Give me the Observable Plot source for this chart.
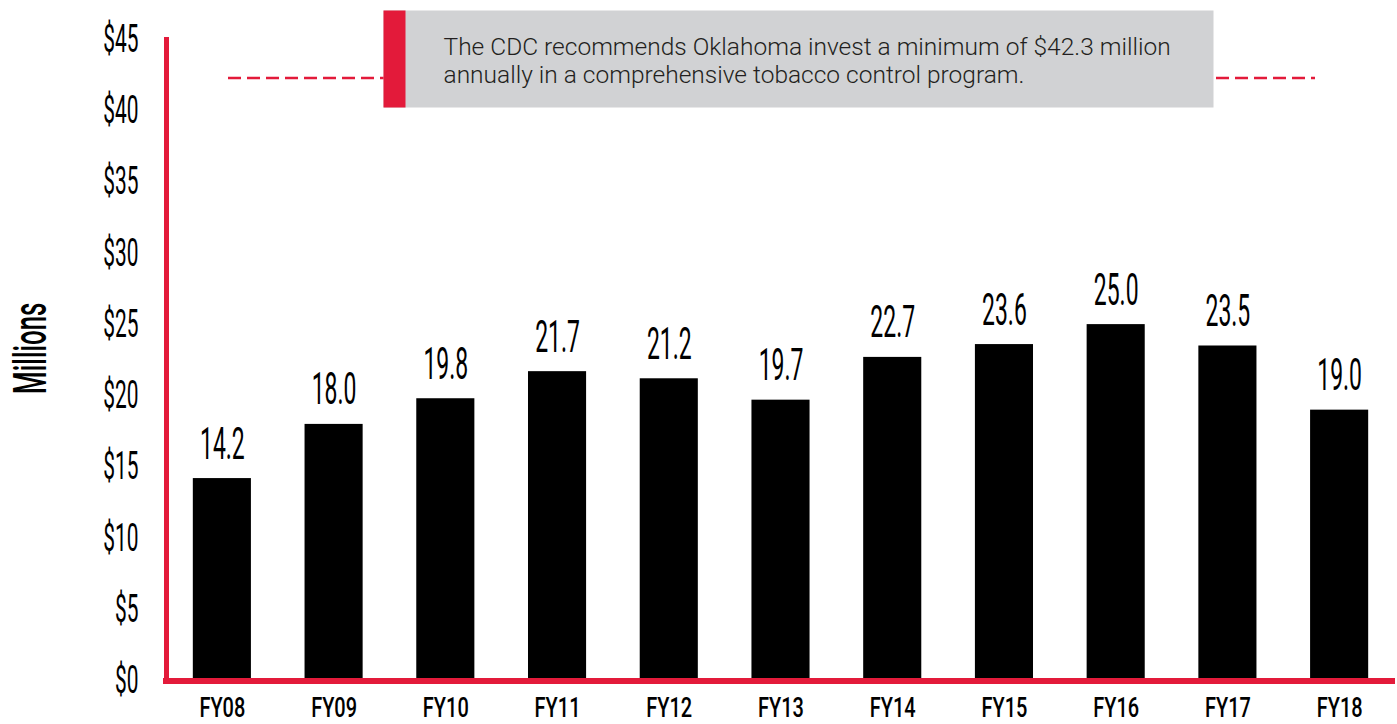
<!DOCTYPE html>
<html>
<head>
<meta charset="utf-8">
<script src="https://cdn.jsdelivr.net/npm/d3@7"></script>
<script src="https://cdn.jsdelivr.net/npm/@observablehq/plot@0.6"></script>
<style>
  html, body { margin: 0; padding: 0; background: #fff; }
  #chart svg { display: block; }
</style>
</head>
<body>
<div id="chart"></div>
<script>
// ---- data ----
const years = ["FY08","FY09","FY10","FY11","FY12","FY13","FY14","FY15","FY16","FY17","FY18"];
const funding = [14.2, 18.0, 19.8, 21.7, 21.2, 19.7, 22.7, 23.6, 25.0, 23.5, 19.0];
const yTicks = [0, 5, 10, 15, 20, 25, 30, 35, 40, 45];
const cdcRecommended = [42.3];
const noteLines = [
  "The CDC recommends Oklahoma invest a minimum of $42.3 million",
  "annually in a comprehensive tobacco control program."
];
const yLabel = "Millions";

const data = years.map((year, i) => ({year, value: funding[i]}));

const RED = "#e31a3a";
const GRAY = "#d1d2d4";
const FONT = "Roboto, 'Liberation Sans', sans-serif";

const chart = Plot.plot({
  width: 1397,
  height: 724,
  marginLeft: 166,
  marginRight: 2,
  marginTop: 39,
  marginBottom: 43.5,
  style: {fontFamily: FONT, background: "#fff", color: "#000"},
  x: {type: "band", domain: years, paddingInner: 0.48, paddingOuter: 0.24, round: false, label: null},
  y: {domain: [0, 45], label: null},
  marks: [
    // recommended-level dashed line (partly hidden behind the note)
    Plot.ruleY(cdcRecommended, {stroke: RED, strokeWidth: 2.5, strokeDasharray: "13,6", insetLeft: 62, insetRight: 80}),
    // note box
    Plot.frame({fill: GRAY, stroke: null, insetLeft: 217, insetRight: 182, insetTop: -29, insetBottom: 573.5}),
    Plot.frame({fill: RED, stroke: null, insetLeft: 217, insetRight: 990, insetTop: -29, insetBottom: 573.5}),
    Plot.text([noteLines.join("\n")], {
      frameAnchor: "top-left", textAnchor: "start", lineAnchor: "top",
      dx: 277, dy: -4, fontSize: 24.5, lineHeight: 1.13, fill: "#231f20", fontWeight: 300
    }),
    // bars
    Plot.barY(data, {x: "year", y: "value", fill: "#000"}),
    Plot.text(data, {
      x: "year", y: "value", text: d => d.value.toFixed(1),
      lineAnchor: "bottom", dy: -20, fontSize: 45, fill: "#000"
    }),
    // axes
    Plot.axisY({ticks: yTicks, tickFormat: d => "$" + d, tickSize: 0, tickPadding: 28, fontSize: 38, label: null, fill: "#000"}),
    Plot.axisX({tickSize: 0, tickPadding: 17, fontSize: 27, fontWeight: 500, label: null, fill: "#000"}),
    Plot.text([yLabel], {frameAnchor: "left", textAnchor: "middle", rotate: -90, dx: -136, dy: -12, fontSize: 47, fontWeight: 500, fill: "#000"}),
    // red axis lines
    Plot.frame({anchor: "left", stroke: RED, strokeWidth: 5, strokeOpacity: 1}),
    Plot.ruleY([0], {stroke: RED, strokeWidth: 6, insetLeft: -3})
  ]
});

// condense the display type horizontally (no condensed web font available offline)
const squeeze = {"38px": 0.55, "27px": 0.74, "45px": 0.51, "47px": 0.55};
document.getElementById("chart").appendChild(chart);
chart.querySelectorAll("text").forEach(t => {
  const fs = getComputedStyle(t).fontSize;
  const s = squeeze[fs];
  if (!s) return;
  let tr = t.getAttribute("transform");
  if (!tr) {
    const x = +(t.getAttribute("x") || 0), y = +(t.getAttribute("y") || 0);
    t.removeAttribute("x"); t.removeAttribute("y");
    tr = `translate(${x},${y})`;
  }
  t.setAttribute("transform", tr + ` scale(${s},1)`);
});
</script>
</body>
</html>
